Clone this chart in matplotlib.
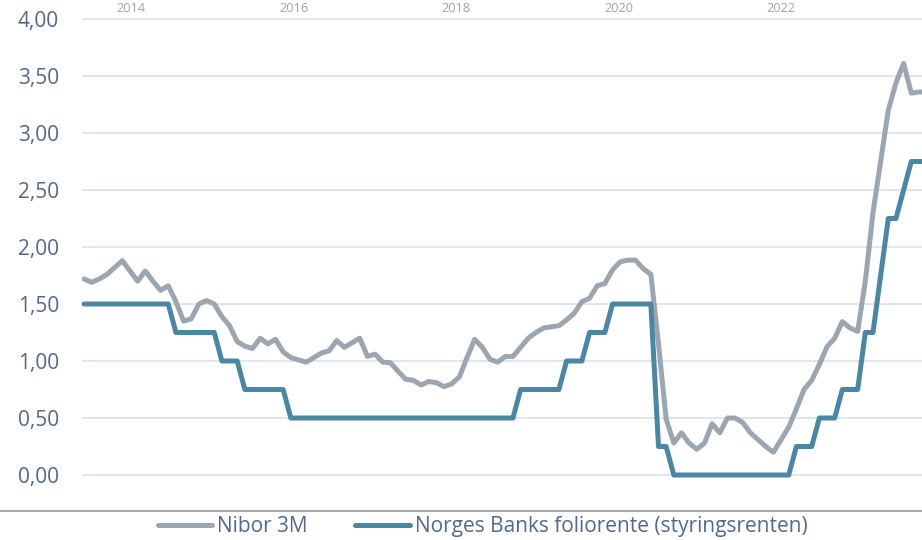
import matplotlib
matplotlib.use("Agg")
import matplotlib.pyplot as plt
from matplotlib.lines import Line2D
import numpy as np

# Monthly observations, Jan 2014 - Mar 2023
nibor_3m = [
    1.72, 1.69, 1.72, 1.76, 1.82, 1.88, 1.79, 1.70, 1.79, 1.70, 1.62, 1.66,
    1.52, 1.35, 1.37, 1.50, 1.53, 1.50, 1.39, 1.31, 1.17, 1.13, 1.11, 1.20,
    1.15, 1.19, 1.08, 1.03, 1.01, 0.99, 1.03, 1.07, 1.09, 1.18, 1.12, 1.16,
    1.20, 1.04, 1.06, 0.99, 0.985, 0.91, 0.84, 0.83, 0.79, 0.82, 0.81, 0.775,
    0.80, 0.86, 1.03, 1.19, 1.12, 1.015, 0.99, 1.04, 1.04, 1.12, 1.20, 1.25,
    1.29, 1.30, 1.31, 1.36, 1.42, 1.52, 1.55, 1.66, 1.68, 1.80, 1.87, 1.885,
    1.885, 1.81, 1.76, 1.15, 0.49, 0.28, 0.37, 0.28, 0.225, 0.28, 0.45, 0.37,
    0.50, 0.50, 0.46, 0.37, 0.31, 0.25, 0.20, 0.31, 0.42, 0.58, 0.75, 0.83,
    0.97, 1.125, 1.20, 1.345, 1.29, 1.26, 1.70, 2.30, 2.75, 3.20, 3.44, 3.61,
    3.35, 3.36, 3.36,
]

foliorente = [
    1.50, 1.50, 1.50, 1.50, 1.50, 1.50, 1.50, 1.50, 1.50, 1.50, 1.50, 1.50,
    1.25, 1.25, 1.25, 1.25, 1.25, 1.25, 1.00, 1.00, 1.00, 0.75, 0.75, 0.75,
    0.75, 0.75, 0.75, 0.50, 0.50, 0.50, 0.50, 0.50, 0.50, 0.50, 0.50, 0.50,
    0.50, 0.50, 0.50, 0.50, 0.50, 0.50, 0.50, 0.50, 0.50, 0.50, 0.50, 0.50,
    0.50, 0.50, 0.50, 0.50, 0.50, 0.50, 0.50, 0.50, 0.50, 0.75, 0.75, 0.75,
    0.75, 0.75, 0.75, 1.00, 1.00, 1.00, 1.25, 1.25, 1.25, 1.50, 1.50, 1.50,
    1.50, 1.50, 1.50, 0.25, 0.25, 0.00, 0.00, 0.00, 0.00, 0.00, 0.00, 0.00,
    0.00, 0.00, 0.00, 0.00, 0.00, 0.00, 0.00, 0.00, 0.00, 0.25, 0.25, 0.25,
    0.50, 0.50, 0.50, 0.75, 0.75, 0.75, 1.25, 1.25, 1.75, 2.25, 2.25, 2.50,
    2.75, 2.75, 2.75,
]

year_labels = ["2014", "2016", "2018", "2020", "2022"]
year_label_pos = [6.14, 27.4, 48.6, 69.8, 91.0]
y_ticks = [0.0, 0.5, 1.0, 1.5, 2.0, 2.5, 3.0, 3.5, 4.0]

series_names = ["Nibor 3M", "Norges Banks foliorente (styringsrenten)"]
series_colors = ["#9ba6b1", "#4b87a3"]

plt.rcParams["font.family"] = ["Open Sans", "DejaVu Sans"]

W, H = 922, 540
fig = plt.figure(figsize=(W / 100, H / 100), dpi=100)

# axes geometry in pixels
px_left, px_right = 82, 922
ymin, ymax = -0.15, 4.05
ppu = 114.0
y0_px = 475
bottom_px = y0_px - ymin * ppu
top_px = y0_px - ymax * ppu
ax = fig.add_axes([px_left / W, 1 - bottom_px / H,
                   (px_right - px_left) / W, (bottom_px - top_px) / H])

x = np.arange(len(nibor_3m))
lw = 3.6
ax.plot(x, nibor_3m, color=series_colors[0], lw=lw, label=series_names[0],
        solid_capstyle="round", solid_joinstyle="round", zorder=3)
ax.plot(x, foliorente, color=series_colors[1], lw=lw, label=series_names[1],
        solid_capstyle="round", solid_joinstyle="round", zorder=4)

spacing = 7.66
ax.set_xlim(-2 / spacing, (922 - 84) / spacing)
ax.set_ylim(ymin, ymax)

ax.set_yticks(y_ticks)
ax.set_yticklabels([f"{v:.2f}".replace(".", ",") for v in y_ticks])
ax.tick_params(axis="y", length=0, pad=16.5, labelsize=15, labelcolor="#53698a")
ax.yaxis.grid(True, color="#dce1ea", linewidth=1.2)
ax.set_axisbelow(True)

ax.set_xticks([])
for lab, pos in zip(year_labels, year_label_pos):
    ax.text(pos, 1 - 9 / H, lab, transform=ax.get_xaxis_transform() if False else
            matplotlib.transforms.blended_transform_factory(ax.transData, fig.transFigure),
            ha="center", va="center", fontsize=9.2, color="#a3a3a3", clip_on=False)

for s in ax.spines.values():
    s.set_visible(False)

# separator line above legend
fig.add_artist(Line2D([0, 1], [1 - 510.7 / H, 1 - 510.7 / H],
                      transform=fig.transFigure, color="#a8a8a8", lw=1.5))

leg = fig.legend(loc="center", bbox_to_anchor=(482.5 / W, 1 - 526.7 / H),
                 ncol=2, frameon=False, fontsize=15, handlelength=2.6,
                 handletextpad=0.25, columnspacing=2.3, borderpad=0,
                 labelcolor="#53698a")

fig.savefig("out.png", dpi=100)
